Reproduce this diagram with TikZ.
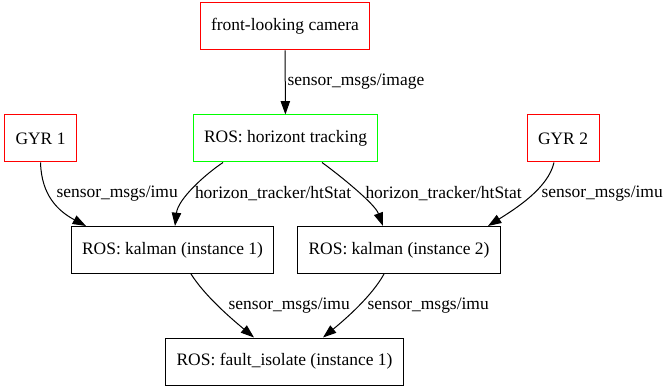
\documentclass[tikz,border=0pt]{standalone}
\usepackage{fontspec}
\setmainfont{Liberation Serif}
\usetikzlibrary{arrows.meta,calc}

\begin{document}
\begin{tikzpicture}[->,>={Triangle[length=10pt,width=7pt]},x=0.75pt,y=-0.75pt,line width=0.75pt,
  every node/.style={font=\fontsize{13.1}{15}\selectfont}]
\tikzstyle{nd}=[rectangle,draw=black,text=black,minimum height=35.25pt,minimum width=54pt,inner xsep=8pt]
\tikzstyle{src}=[nd,draw=red]
\tikzstyle{trk}=[nd,draw=green]
\tikzstyle{lbl}=[anchor=west,inner sep=0pt,text=black]
\useasboundingbox (0,0) rectangle (663,388);
\node[src] (cam) at (285,26.5)   {front-looking camera};
\node[trk] (ht)  at (285.5,138.5) {ROS: horizont tracking};
\node[src] (g1)  at (40.5,138.5) {GYR 1};
\node[src] (g2)  at (563,138.5)  {GYR 2};
\node[nd]  (k1)  at (172.5,250)  {ROS: kalman (instance 1)};
\node[nd]  (k2)  at (399,250)    {ROS: kalman (instance 2)};
\node[nd]  (fi)  at (284.5,361.5) {ROS: fault\_isolate (instance 1)};
% topic labels
\node[lbl] (limg) at (287,82)   {sensor\_msgs/image};
\node[lbl] (lg1)  at (56,194)   {sensor\_msgs/imu};
\node[lbl] (lh1)  at (194.5,194) {horizon\_tracker/htStat};
\node[lbl] (lh2)  at (365,194)  {horizon\_tracker/htStat};
\node[lbl] (lg2)  at (541,194)  {sensor\_msgs/imu};
\node[lbl] (lk1)  at (228,306)  {sensor\_msgs/imu};
\node[lbl] (lk2)  at (367,306)  {sensor\_msgs/imu};
\draw (cam) -- (ht);
\draw (g1.south) .. controls +(1,33) and +(-28,-15) .. ($(k1.north)+(-86.5,0)$);
\draw ($(ht.south)+(-62.5,0)$) .. controls +(-18,12) and +(3,-27) .. ($(k1.north)+(2.5,0)$);
\draw ($(ht.south)+(36.5,0)$) .. controls +(18,13) and +(-8,-22) .. ($(k2.north)+(-16,0)$);
\draw ($(g2.south)+(-9,0)$) .. controls +(-6,26) and +(27,-17) .. ($(k2.north)+(89,0)$);
\draw ($(k1.south)+(18.5,0)$) .. controls +(14,22) and +(-24,-20) .. ($(fi.north)+(-30.5,0)$);
\draw ($(k2.south)+(-15,0)$) .. controls +(-12,22) and +(22,-18) .. ($(fi.north)+(38.5,0)$);
\end{tikzpicture}
\end{document}
